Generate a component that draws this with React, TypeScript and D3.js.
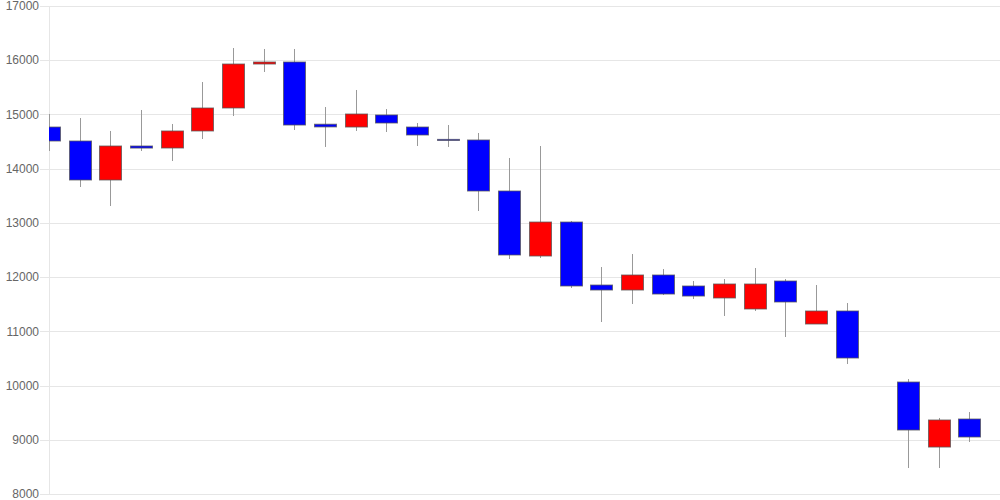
import * as React from 'react';
import * as d3 from 'd3';

// daily candles, index 27 is a missing day
const opens = [14768, 14510, 13791, 14418, 14381, 14695, 15119, 15930, 15967, 14820, 14768, 14990, 14768, 14540, 14529, 13588, 12389, 13016, 11854, 11762, 12039, 11836, 11615, 11412, 11928, 11135, 11375, null, 10065, 8866, 9383];
const closes = [14510, 13791, 14418, 14380, 14695, 15119, 15930, 15967, 14805, 14770, 15008, 14842, 14621, 14520, 13588, 12408, 13016, 11836, 11762, 12039, 11688, 11651, 11873, 11873, 11541, 11375, 10508, null, 9180, 9365, 9051];
const highs = [15008, 14934, 14695, 15082, 14824, 15598, 16225, 16207, 16207, 15137, 15451, 15100, 14842, 14805, 14658, 14197, 14418, 13035, 12186, 12426, 12149, 11928, 11965, 12168, 11965, 11854, 11522, null, 10120, 9402, 9512];
const lows = [14326, 13662, 13311, 14326, 14141, 14547, 14971, 15783, 14713, 14400, 14695, 14676, 14418, 14400, 13219, 12334, 12352, 11799, 11172, 11504, 11670, 11596, 11283, 11375, 10895, 11135, 10397, null, 8479, 8479, 8959];
const yTicks = [8000, 9000, 10000, 11000, 12000, 13000, 14000, 15000, 16000, 17000];

const W = 1000;
const H = 500;
const margin = { top: 6, right: 0, bottom: 6, left: 49 };

export default function App() {
  const ref = React.useRef<SVGSVGElement>(null);

  React.useEffect(() => {
    const svg = d3.select(ref.current);
    svg.selectAll('*').remove();

    const x = d3.scaleLinear().domain([0, 31]).range([margin.left, W - margin.right]);
    const y = d3.scaleLinear().domain([8000, 17000]).range([H - margin.bottom, margin.top]);
    const bodyW = 22;

    svg
      .append('defs')
      .append('clipPath')
      .attr('id', 'plot-clip')
      .append('rect')
      .attr('x', margin.left)
      .attr('y', 0)
      .attr('width', W - margin.left)
      .attr('height', H);

    // grid + ticks
    const grid = svg.append('g');
    grid
      .selectAll('line')
      .data(yTicks)
      .enter()
      .append('line')
      .attr('x1', margin.left - 9)
      .attr('x2', W)
      .attr('y1', d => Math.round(y(d)) + 0.5)
      .attr('y2', d => Math.round(y(d)) + 0.5)
      .attr('stroke', '#e6e6e6')
      .attr('stroke-width', 1);
    grid
      .append('line')
      .attr('x1', margin.left + 0.5)
      .attr('x2', margin.left + 0.5)
      .attr('y1', margin.top)
      .attr('y2', H - margin.bottom)
      .attr('stroke', '#e6e6e6');
    grid
      .selectAll('text')
      .data(yTicks)
      .enter()
      .append('text')
      .attr('x', margin.left - 10)
      .attr('y', d => y(d))
      .attr('dy', '0.35em')
      .attr('text-anchor', 'end')
      .attr('fill', '#666')
      .attr('font-family', 'Liberation Sans, Arial, sans-serif')
      .attr('font-size', 12)
      .text(d => String(d));

    const idx = d3.range(opens.length).filter(i => opens[i] != null);
    const g = svg.append('g').attr('clip-path', 'url(#plot-clip)');

    g.selectAll('.wick')
      .data(idx)
      .enter()
      .append('line')
      .attr('x1', i => Math.round(x(i)) + 0.5)
      .attr('x2', i => Math.round(x(i)) + 0.5)
      .attr('y1', i => y(highs[i] as number))
      .attr('y2', i => y(lows[i] as number))
      .attr('stroke', '#999')
      .attr('stroke-width', 1);

    g.selectAll('.body')
      .data(idx)
      .enter()
      .append('rect')
      .attr('x', i => Math.round(x(i) - bodyW / 2) + 0.5)
      .attr('width', bodyW)
      .attr('y', i => y(Math.max(opens[i] as number, closes[i] as number)))
      .attr('height', i =>
        Math.max(1, Math.abs(y(opens[i] as number) - y(closes[i] as number)))
      )
      .attr('fill', i => ((closes[i] as number) > (opens[i] as number) ? '#ff0000' : '#0000ff'))
      .attr('stroke', '#555')
      .attr('stroke-opacity', 0.75)
      .attr('stroke-width', 1);
  }, []);

  return (
    <svg
      ref={ref}
      width={W}
      height={H}
      style={{ position: 'absolute', left: 0, top: 0, background: '#fff' }}
    />
  );
}
